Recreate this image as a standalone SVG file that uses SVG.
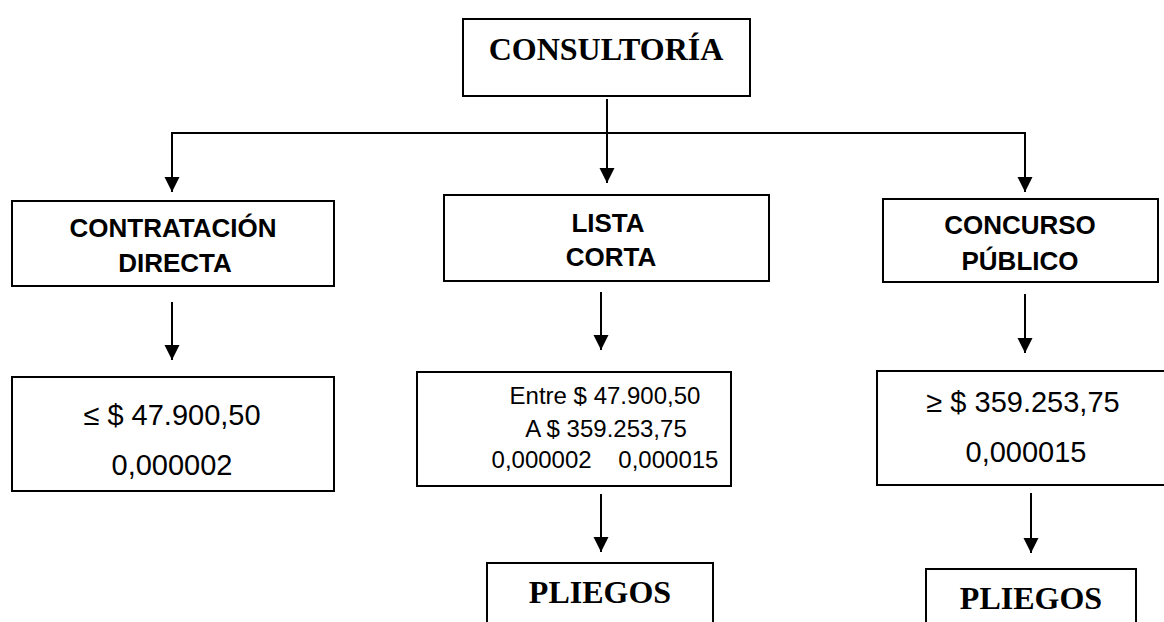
<svg xmlns="http://www.w3.org/2000/svg" width="1164" height="622" viewBox="0 0 1164 622">
<style>
.box{fill:#fff;stroke:#000;stroke-width:2}
.ln{fill:none;stroke:#000;stroke-width:2}
.tb{font-family:"Liberation Serif","Times New Roman",serif;font-weight:bold;font-size:32px;text-anchor:middle;fill:#000}
.hb{font-family:"Liberation Sans",Arial,sans-serif;font-weight:bold;font-size:26px;text-anchor:middle;fill:#000}
.v{font-family:"Liberation Sans",Arial,sans-serif;font-size:29px;text-anchor:middle;fill:#000}
.vs{font-family:"Liberation Sans",Arial,sans-serif;font-size:24px;text-anchor:middle;fill:#000;white-space:pre}
</style>
<defs>
<marker id="ah" markerUnits="userSpaceOnUse" markerWidth="16" markerHeight="16" refX="15" refY="7.5" orient="auto">
<path d="M0,0 L15,7.5 L0,15 z" fill="#000"/>
</marker>
</defs>
<rect width="1164" height="622" fill="#fff"/>
<g id="connectors">
<polyline class="ln" points="172,192 172,133 1025,133 1025,192" marker-end="url(#ah)"/>
<line class="ln" x1="172" y1="133" x2="172" y2="192" marker-end="url(#ah)"/>
<line class="ln" x1="607" y1="99" x2="607" y2="183" marker-end="url(#ah)"/>
<line class="ln" x1="172" y1="302" x2="172" y2="360" marker-end="url(#ah)"/>
<line class="ln" x1="601" y1="292" x2="601" y2="350" marker-end="url(#ah)"/>
<line class="ln" x1="1025" y1="294" x2="1025" y2="353" marker-end="url(#ah)"/>
<line class="ln" x1="601" y1="494" x2="601" y2="552" marker-end="url(#ah)"/>
<line class="ln" x1="1031" y1="493" x2="1031" y2="553" marker-end="url(#ah)"/>
</g>
<g id="consultoria">
<rect class="box" x="463" y="19" width="287" height="77"/>
<text class="tb" x="606" y="60">CONSULTORÍA</text>
</g>
<g id="contratacion-directa">
<rect class="box" x="12" y="201" width="322" height="85"/>
<text class="hb" x="173" y="237">CONTRATACIÓN</text>
<text class="hb" x="175" y="272">DIRECTA</text>
</g>
<g id="lista-corta">
<rect class="box" x="444" y="195" width="325" height="86"/>
<text class="hb" x="608" y="232">LISTA</text>
<text class="hb" x="611" y="266">CORTA</text>
</g>
<g id="concurso-publico">
<rect class="box" x="883" y="199" width="275" height="83"/>
<text class="hb" x="1020" y="234">CONCURSO</text>
<text class="hb" x="1020" y="270">PÚBLICO</text>
</g>
<g id="valor-directa">
<rect class="box" x="12" y="377" width="322" height="114"/>
<text class="v" x="172" y="425">≤ $ 47.900,50</text>
<text class="v" x="172" y="475">0,000002</text>
</g>
<g id="valor-lista">
<rect class="box" x="417" y="372" width="314" height="114"/>
<text class="vs" x="605" y="404">Entre $ 47.900,50</text>
<text class="vs" x="606" y="437">A $ 359.253,75</text>
<text class="vs" x="605" y="468">0,000002    0,000015</text>
</g>
<g id="valor-concurso">
<rect class="box" x="877" y="371" width="290" height="114"/>
<text class="v" x="1023" y="412">≥ $ 359.253,75</text>
<text class="v" x="1026" y="462">0,000015</text>
</g>
<g id="pliegos-lista">
<rect class="box" x="487" y="563" width="226" height="70"/>
<text class="tb" x="600" y="603">PLIEGOS</text>
</g>
<g id="pliegos-concurso">
<rect class="box" x="926" y="569" width="210" height="70"/>
<text class="tb" x="1031" y="609">PLIEGOS</text>
</g>
</svg>
